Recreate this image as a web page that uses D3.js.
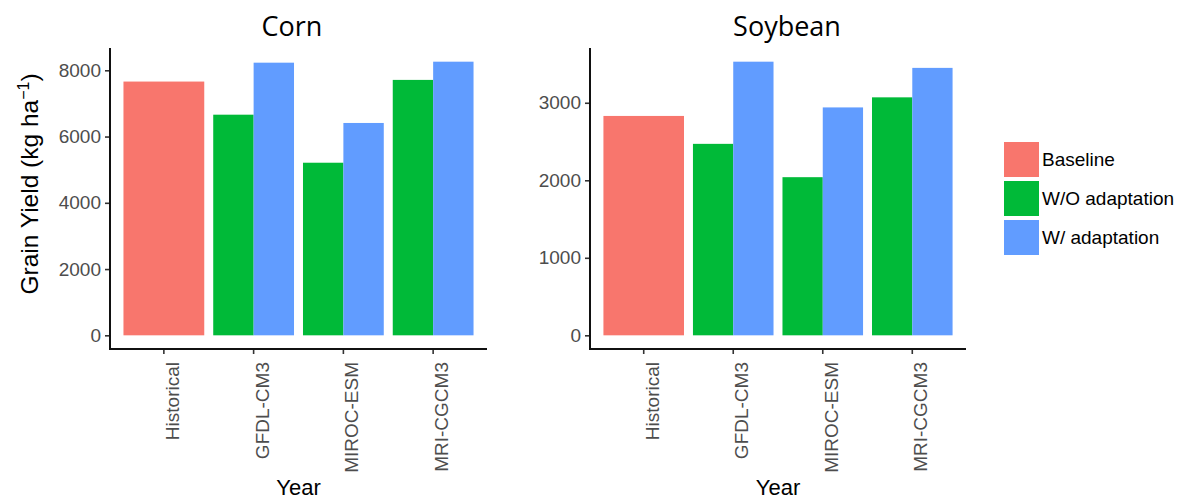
<!DOCTYPE html>
<html><head><meta charset="utf-8">
<script src="https://cdn.jsdelivr.net/npm/d3@7/dist/d3.min.js"></script>
<style>body{margin:0;background:#fff}svg{display:block}</style>
</head><body>
<script>
const categories = ["Historical", "GFDL-CM3", "MIROC-ESM", "MRI-CGCM3"];
const seriesNames = ["Baseline", "W/O adaptation", "W/ adaptation"];
const seriesColors = ["#F8766D", "#00BA38", "#619CFF"];
// Corn (kg/ha)
const cornBaseline = [7660, null, null, null];
const cornWithout = [null, 6660, 5210, 7710];
const cornWith = [null, 8230, 6410, 8260];
const cornTicks = [0, 2000, 4000, 6000, 8000];
// Soybean (kg/ha)
const soyBaseline = [2830, null, null, null];
const soyWithout = [null, 2470, 2040, 3070];
const soyWith = [null, 3530, 2940, 3450];
const soyTicks = [0, 1000, 2000, 3000];

const W = 1178, H = 500;
const svg = d3.select("body").append("svg").attr("width", W).attr("height", H);
const font = "Liberation Sans, Arial, sans-serif";

function panel(opts) {
  const {x0, x1, title, titleX, base, wo, w, ticks} = opts;
  const top = 48, bottom = 349;
  const g = svg.append("g");
  const x = d3.scaleBand().domain(categories).range([x0, x1]).paddingInner(0.1).paddingOuter(0.15);
  const sub = d3.scaleBand().domain([1, 2]).range([0, x.bandwidth()]);
  const maxV = d3.max([...base, ...wo, ...w].filter(v => v != null));
  const y = d3.scaleLinear().domain([-0.05 * maxV, 1.05 * maxV]).range([bottom, top]);

  const bars = [];
  categories.forEach((c, i) => {
    if (base[i] != null) bars.push({c, v: base[i], s: 0, x: x(c), w: x.bandwidth()});
    if (wo[i] != null) bars.push({c, v: wo[i], s: 1, x: x(c) + sub(1), w: sub.bandwidth()});
    if (w[i] != null) bars.push({c, v: w[i], s: 2, x: x(c) + sub(2), w: sub.bandwidth()});
  });
  g.selectAll("rect.bar").data(bars).join("rect").attr("class", "bar")
    .attr("x", d => d.x).attr("width", d => d.w)
    .attr("y", d => y(d.v)).attr("height", d => y(0) - y(d.v))
    .attr("fill", d => seriesColors[d.s]);

  // y axis
  const ya = g.append("g").attr("transform", `translate(${x0},0)`)
    .call(d3.axisLeft(y).tickValues(ticks).tickSize(5).tickPadding(4).tickFormat(d3.format("d")));
  ya.select(".domain").remove();
  ya.selectAll(".tick line").attr("stroke", "#333").attr("stroke-width", 1.6);
  ya.selectAll(".tick text").attr("fill", "#4d4d4d").style("font-family", font).style("font-size", "19px");
  g.append("line").attr("x1", x0).attr("x2", x0).attr("y1", top).attr("y2", bottom + 1)
    .attr("stroke", "#111").attr("stroke-width", 2);

  // x axis
  const xa = g.append("g").attr("transform", `translate(0,${bottom})`)
    .call(d3.axisBottom(x).tickSize(5).tickSizeOuter(0));
  xa.select(".domain").remove();
  xa.selectAll(".tick line").attr("stroke", "#333").attr("stroke-width", 1.6);
  xa.selectAll(".tick text").attr("fill", "#4d4d4d").style("font-family", font).style("font-size", "19px")
    .attr("text-anchor", "end").attr("dy", null).attr("y", 0)
    .attr("transform", "translate(15,13) rotate(-90)");
  g.append("line").attr("x1", x0 - 1).attr("x2", x1).attr("y1", bottom).attr("y2", bottom)
    .attr("stroke", "#111").attr("stroke-width", 2);

  g.append("text").attr("x", titleX).attr("y", 36).attr("text-anchor", "middle")
    .style("font-family", "Open Sans, sans-serif").style("font-size", "27px").attr("fill", "#000").text(title);
  g.append("text").attr("x", (x0 + x1) / 2).attr("y", 495).attr("text-anchor", "middle")
    .style("font-family", font).style("font-size", "22px").attr("fill", "#000").text("Year");
}

panel({x0: 110, x1: 487, title: "Corn", titleX: 292, base: cornBaseline, wo: cornWithout, w: cornWith, ticks: cornTicks});
panel({x0: 590, x1: 966, title: "Soybean", titleX: 787, base: soyBaseline, wo: soyWithout, w: soyWith, ticks: soyTicks});

// y axis title
const yt = svg.append("text").attr("transform", "translate(38,184) rotate(-90)").attr("text-anchor", "middle")
  .style("font-family", font).style("font-size", "24.5px").attr("fill", "#000");
yt.append("tspan").text("Grain Yield (kg ha");
yt.append("tspan").attr("dy", -9).style("font-size", "16px").text("\u22121");
yt.append("tspan").attr("dy", 9).text(")");

// legend
const lg = svg.append("g");
seriesNames.forEach((n, i) => {
  const yy = 142 + i * 39;
  lg.append("rect").attr("x", 1004).attr("y", yy).attr("width", 35).attr("height", 35).attr("fill", seriesColors[i]);
  lg.append("text").attr("x", 1042).attr("y", yy + 17.5).attr("dy", "0.35em")
    .style("font-family", font).style("font-size", "19px").attr("fill", "#000").text(n);
});
</script>
</body></html>
